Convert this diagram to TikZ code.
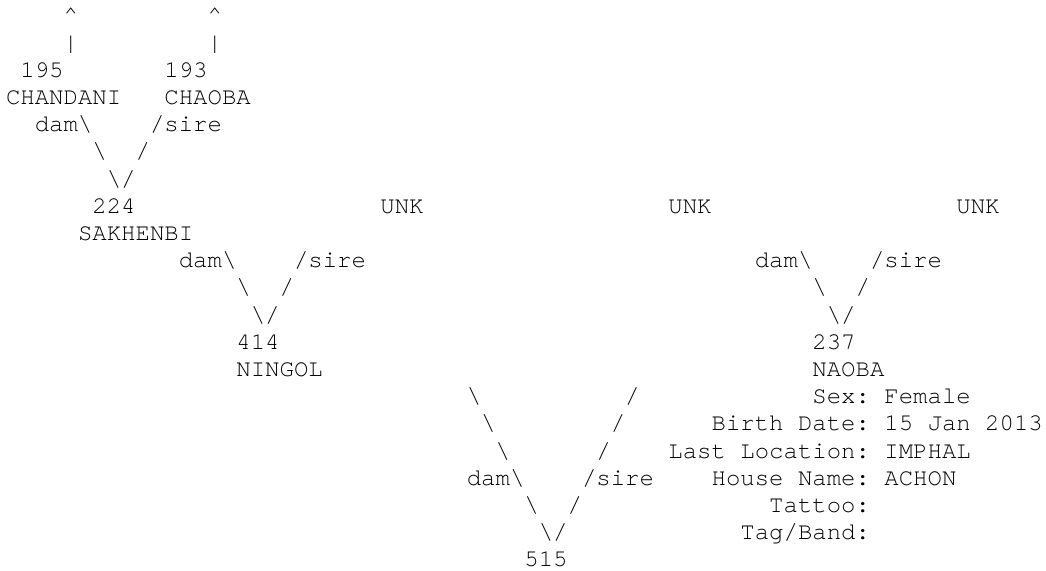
\documentclass[tikz,border=0pt]{standalone}
\usepackage{fontspec}
\setmonofont{TeX Gyre Cursor}
\tikzset{
  txt/.style={anchor=base west, inner sep=0pt, outer sep=0pt, font=\ttfamily\fontsize{12pt}{13.6pt}\selectfont, text=black}
}
\newcommand\cellat[4]{\node[txt] (#1) at ({6+14.4*#2},{23+27.2*#3}) {#4};}
\newcommand\bs{\textbackslash}
\begin{document}
\begin{tikzpicture}[x=0.5pt,y=-0.5pt]
\useasboundingbox (0,0) rectangle (1046,571);
% row 0-1: arrows to ancestors
\cellat{upa}{4}{0}{\textasciicircum}
\cellat{upb}{14}{0}{\textasciicircum}
\cellat{bara}{4}{1}{|}
\cellat{barb}{14}{1}{|}
% 195 / 193
\cellat{n195}{1}{2}{195}
\cellat{n193}{11}{2}{193}
\cellat{chandani}{0}{3}{CHANDANI}
\cellat{chaoba}{11}{3}{CHAOBA}
\cellat{dama}{2}{4}{dam\bs}
\cellat{sirea}{10}{4}{/sire}
\cellat{la1}{6}{5}{\bs}
\cellat{ra1}{9}{5}{/}
\cellat{va}{7}{6}{\bs/}
% row 7-8
\cellat{n224}{6}{7}{224}
\cellat{unka}{26}{7}{UNK}
\cellat{unkb}{46}{7}{UNK}
\cellat{unkc}{66}{7}{UNK}
\cellat{sakhenbi}{5}{8}{SAKHENBI}
% 414 branch
\cellat{damb}{12}{9}{dam\bs}
\cellat{sireb}{20}{9}{/sire}
\cellat{lb1}{16}{10}{\bs}
\cellat{rb1}{19}{10}{/}
\cellat{vb}{17}{11}{\bs/}
\cellat{n414}{16}{12}{414}
\cellat{ningol}{16}{13}{NINGOL}
% 237 branch
\cellat{damc}{52}{9}{dam\bs}
\cellat{sirec}{60}{9}{/sire}
\cellat{lc1}{56}{10}{\bs}
\cellat{rc1}{59}{10}{/}
\cellat{vc}{57}{11}{\bs/}
\cellat{n237}{56}{12}{237}
\cellat{naoba}{56}{13}{NAOBA}
% 515 branch
\cellat{ld1}{32}{14}{\bs}
\cellat{rd1}{43}{14}{/}
\cellat{ld2}{33}{15}{\bs}
\cellat{rd2}{42}{15}{/}
\cellat{ld3}{34}{16}{\bs}
\cellat{rd3}{41}{16}{/}
\cellat{damd}{32}{17}{dam\bs}
\cellat{sired}{40}{17}{/sire}
\cellat{ld4}{36}{18}{\bs}
\cellat{rd4}{39}{18}{/}
\cellat{vd}{37}{19}{\bs/}
\cellat{n515}{36}{20}{515}
% info
\cellat{sex}{56}{14}{Sex: Female}
\cellat{birth}{49}{15}{Birth Date: 15 Jan 2013}
\cellat{loc}{46}{16}{Last Location: IMPHAL}
\cellat{house}{49}{17}{House Name: ACHON}
\cellat{tattoo}{53}{18}{Tattoo:}
\cellat{tag}{51}{19}{Tag/Band:}
\end{tikzpicture}
\end{document}
